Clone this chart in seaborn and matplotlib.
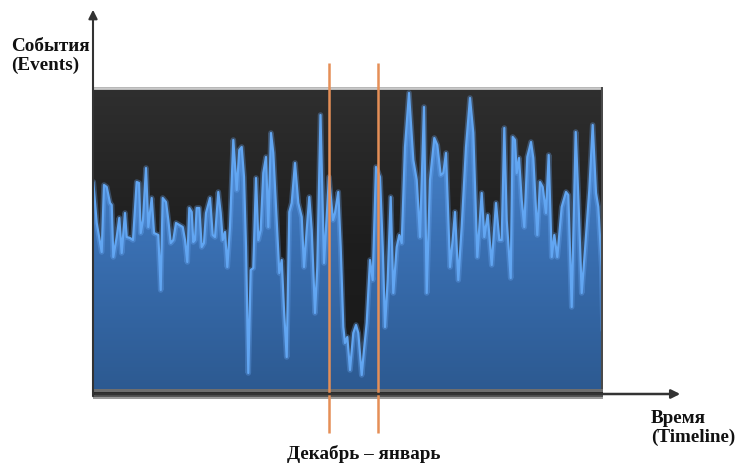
import matplotlib
matplotlib.use("Agg")
import matplotlib.pyplot as plt
import numpy as np
import pandas as pd
import seaborn as sns
from matplotlib.colors import LinearSegmentedColormap
from matplotlib.patches import FancyArrowPatch

# time axis (arbitrary day units) and event counts
days = [
    0.3, 3.7, 8.7, 11.0, 13.7, 17.0, 18.7, 20.3, 23.7, 26.3,
    28.7, 32.0, 33.7, 37.0, 40.0, 43.7, 46.0, 47.7, 50.0, 53.0,
    55.3, 58.7, 61.0, 65.3, 67.7, 69.7, 73.0, 75.3, 77.7, 80.3,
    83.0, 86.3, 89.7, 92.0, 94.3, 96.3, 98.7, 100.3, 102.0, 103.7,
    106.3, 108.7, 111.0, 113.0, 117.0, 119.7, 122.0, 125.3, 127.7, 129.7,
    132.0, 134.3, 137.0, 140.3, 143.7, 146.3, 148.7, 151.0, 153.0, 155.3,
    157.7, 160.3, 163.0, 165.3, 167.7, 170.3, 173.0, 175.3, 178.0, 180.3,
    183.7, 186.3, 188.7, 191.0, 193.7, 196.3, 198.7, 202.0, 205.3, 208.7,
    211.0, 213.7, 216.3, 218.7, 222.0, 224.3, 227.5, 231.0, 236.0, 240.0,
    242.0, 245.3, 247.7, 250.3, 252.0, 254.3, 257.0, 260.3, 263.0, 265.3,
    268.7, 271.0, 273.7, 277.0, 279.7, 283.0, 287.0, 289.7, 292.0, 294.7,
    297.7, 300.3, 303.7, 306.3, 308.7, 312.0, 316.0, 320.3, 323.7, 327.0,
    331.0, 333.7, 337.0, 341.3, 344.3, 347.7, 350.3, 353.0, 357.0, 359.7,
    362.0, 365.3, 368.7, 373.0, 377.0, 380.3, 384.3, 388.7, 391.3, 394.7,
    398.7, 403.0, 406.3, 408.7, 411.3, 413.7, 417.7, 419.7, 422.0, 423.7,
    426.0, 428.7, 431.3, 434.3, 438.0, 440.3, 444.3, 447.0, 449.7, 453.0,
    455.7, 458.7, 461.3, 464.3, 468.7, 473.0, 475.3, 478.7, 482.7, 485.3,
    488.7, 492.0, 496.3, 499.7, 503.0, 505.3, 508.7, 510.0,
]
events = [
    212, 171, 142, 209, 207, 191, 189, 137, 157, 176,
    141, 181, 157, 156, 154, 212, 211, 161, 174, 226,
    167, 196, 161, 159, 104, 196, 192, 174, 151, 154,
    171, 169, 167, 154, 132, 186, 182, 152, 154, 186,
    186, 147, 151, 181, 196, 159, 157, 202, 181, 154,
    162, 127, 167, 254, 204, 244, 247, 217, 147, 21,
    124, 126, 216, 154, 164, 221, 237, 167, 261, 241,
    174, 121, 134, 84, 37, 182, 191, 231, 191, 177,
    127, 164, 197, 164, 81, 127, 279, 131, 217, 174,
    181, 202, 147, 67, 51, 57, 24, 61, 69, 61,
    19, 44, 71, 134, 114, 227, 217, 147, 67, 114,
    197, 101, 147, 159, 151, 247, 301, 234, 214, 157,
    287, 101, 214, 256, 249, 219, 221, 241, 127, 154,
    182, 114, 167, 247, 296, 261, 137, 201, 157, 179,
    129, 191, 154, 154, 266, 174, 116, 257, 254, 221,
    236, 194, 167, 237, 252, 236, 159, 212, 207, 181,
    239, 137, 159, 137, 187, 202, 199, 87, 262, 197,
    101, 144, 204, 269, 201, 187, 127, 64,
]
# December - January window
period_bounds = [236.3, 284.7]

assert len(days) == len(events)
df = pd.DataFrame({"day": days, "events": events})

sns.set_style("white")
plt.rcParams["font.family"] = ["Liberation Serif", "DejaVu Serif"]

W, H = 741, 470
fig = plt.figure(figsize=(W / 100, H / 100), dpi=100)
ax = fig.add_axes([93 / W, 71 / H, 510 / W, 312 / H])
ax.set_xlim(0, 510)
ax.set_ylim(-5, 307)
ax.set_axis_off()

# dark panel with vertical gradient
grad = np.linspace(0, 1, 256).reshape(-1, 1)
bg_cmap = LinearSegmentedColormap.from_list("bg", ["#181818", "#1e1e1e", "#2f2f2f"])
ax.imshow(grad, origin="lower", extent=[0, 510, -5, 307], aspect="auto",
          cmap=bg_cmap, zorder=0)

# blue area with gradient clipped to the series
poly = ax.fill_between(df["day"], 0, df["events"], color="none", lw=0)
blue_cmap = LinearSegmentedColormap.from_list("blue", ["#2c5990", "#3a70b3", "#4c8ad4"])
im = ax.imshow(grad, origin="lower", extent=[0, 510, 0, 307], aspect="auto",
               cmap=blue_cmap, zorder=1)
im.set_clip_path(poly.get_paths()[0], transform=ax.transData)

# glowing line on top
ax.plot(df["day"], df["events"], color="#6fb0ff", lw=4, alpha=0.3, zorder=2)
sns.lineplot(data=df, x="day", y="events", ax=ax, color="#62a6f2", lw=1.6,
             sort=False, zorder=3)

# panel frame: light top edge, side edge, bottom band
ax.axhline(306, color="#c9c9c9", lw=2, zorder=4)
ax.axvline(509.3, color="#4a4a4a", lw=1.5, zorder=4)
ax.axhspan(2, 5, color="#6e6e6e", lw=0, zorder=4)
ax.axhspan(-1, 2, color="#2a2a2a", lw=0, zorder=4)
ax.axhspan(-3, -1, color="#555555", lw=0, zorder=4)
ax.axhspan(-5, -3, color="#9a9a9a", lw=0, zorder=4)

# December-January markers
ax.vlines(period_bounds, -39, 331, colors="#e58f57", lw=1.8, clip_on=False, zorder=6)

# axis arrows
fig.add_artist(FancyArrowPatch((93 / W, 1 - 399 / H), (93 / W, 1 - 7 / H),
                               transform=fig.transFigure, arrowstyle="-|>",
                               mutation_scale=13, color="#333333", lw=1.5))
fig.add_artist(FancyArrowPatch((93 / W, 1 - 394 / H), (683 / W, 1 - 394 / H),
                               transform=fig.transFigure, arrowstyle="-|>",
                               mutation_scale=13, color="#333333", lw=1.8))

txt = dict(fontsize=13.8, fontweight="bold", color="#111111", linespacing=1.12)
fig.text(11 / W, 1 - 38 / H, "События\n(Events)", ha="left", va="top", **txt)
fig.text(651 / W, 1 - 410 / H, "Время\n(Timeline)", ha="left", va="top", **txt)
fig.text(364 / W, 1 - 445 / H, "Декабрь – январь", ha="center", va="top", **txt)

fig.savefig("out.png", dpi=100)
